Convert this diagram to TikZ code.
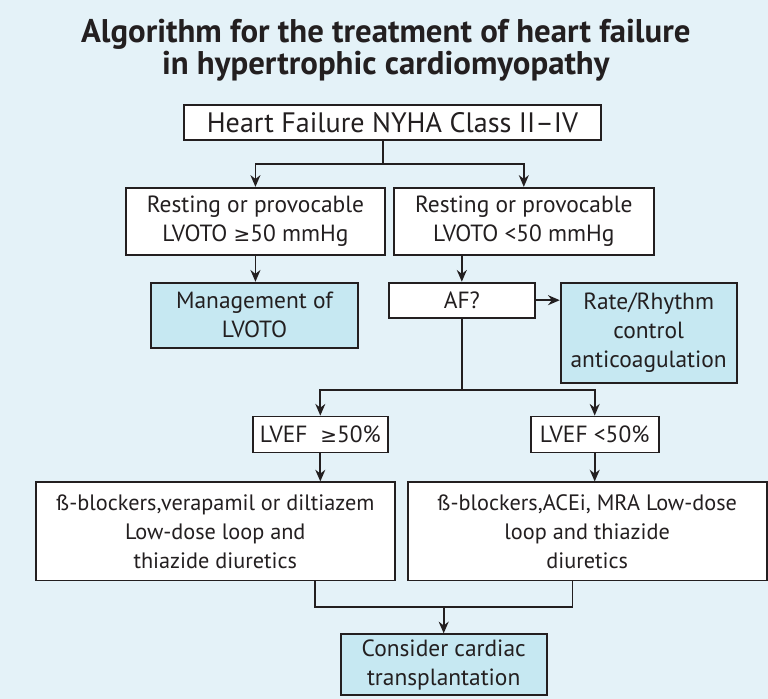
\documentclass[tikz,border=0pt]{standalone}
\usepackage{fontspec}
\setmainfont{PT Sans}
\newfontfamily\symfont{DejaVu Sans}
\newcommand{\geqsym}{{\symfont\fontsize{17}{20}\selectfont ≥}}
\usepackage{tikz}
\usetikzlibrary{arrows.meta, positioning}
\definecolor{hcmBack}{RGB}{228,242,248}
\definecolor{hcmFill}{RGB}{198,232,242}
\definecolor{hcmInk}{RGB}{35,31,32}

\begin{document}
\begin{tikzpicture}[
  node distance=0.8cm and 0.2cm,
  plain/.style={rectangle, draw=hcmInk, fill=white, line width=1.6pt,
                align=center, inner sep=0pt, text=hcmInk,
                font=\fontsize{20}{24.7}\selectfont},
  shaded/.style={plain, fill=hcmFill},
  line/.style={draw=hcmInk, line width=1.5pt},
  arr/.style={line, -{Stealth[length=10pt, width=8.5pt]}},
  title/.style={align=center, inner sep=0pt, text=hcmInk,
                font=\fontsize{28}{23.5}\selectfont\bfseries},
]
  % Background (page size)
  \fill[hcmBack] (0,0) rectangle (23.04,-20.97);
  \useasboundingbox (0,0) rectangle (23.04,-20.97);

  % Row 1
  \node[plain, anchor=north west, minimum width=12.51cm, minimum height=1.05cm,
        font=\fontsize{24}{25}\selectfont] (top) at (5.49,-3.12) {Heart Failure NYHA Class II–IV};
  \node[title, above=0.69cm of top, xshift=-0.2cm] (head) {Algorithm for the treatment of heart failure\\in hypertrophic cardiomyopathy};

  % Row 2
  \node[plain, minimum width=7.77cm, minimum height=2.01cm,
        below right=1.38cm and -1.74cm of top.south west] (lvotoHi) {Resting or provocable\\LVOTO \geqsym50 mmHg};
  \node[plain, minimum width=7.8cm, minimum height=2.01cm, right=0.21cm of lvotoHi] (lvotoLo) {Resting or provocable\\LVOTO <50 mmHg};

  % Row 3
  \node[shaded, minimum width=6.21cm, minimum height=1.95cm,
        below right=0.78cm and 0.75cm of lvotoHi.south west] (manage) {Management of\\LVOTO};
  \node[plain, minimum width=4.38cm, minimum height=1.05cm,
        below right=0.78cm and -0.15cm of lvotoLo.south west] (af) {AF?};
  \node[shaded, minimum width=5.28cm, minimum height=3.0cm,
        below right=0cm and 0.72cm of af.north east] (rate) {Rate/Rhythm\\control\\anticoagulation};

  % Row 4
  \node[plain, minimum width=4.05cm, minimum height=1.08cm,
        below right=2.91cm and -4.08cm of af.south west] (lvefHi) {LVEF\; \geqsym50\%};
  \node[plain, minimum width=3.84cm, minimum height=1.08cm, right=4.23cm of lvefHi] (lvefLo) {LVEF <50\%};

  % Row 5
  \node[plain, minimum width=10.77cm, minimum height=2.94cm, font=\fontsize{19}{24.7}\selectfont,
        below right=0.84cm and -6.51cm of lvefHi.south west] (drugHi) {ß-blockers,verapamil or diltiazem\\Low-dose loop and\\thiazide diuretics};
  \node[plain, minimum width=10.77cm, minimum height=2.94cm, font=\fontsize{19}{24.7}\selectfont,
        right=0.33cm of drugHi] (drugLo) {ß-blockers,ACEi, MRA Low-dose\\loop and thiazide\\diuretics};

  % Row 6
  \node[shaded, minimum width=6.18cm, minimum height=1.83cm,
        below right=1.56cm and -1.68cm of drugHi.south east] (transplant) {Consider cardiac\\transplantation};

  % Connectors
  \draw[line] ([xshift=-0.28cm]top.south) -- ++(0,-0.69) coordinate (split1);
  \draw[arr] (split1) -| (lvotoHi.north);
  \draw[arr] (split1) -| (lvotoLo.north);
  \draw[arr] (lvotoHi.south) -- (lvotoHi.south |- manage.north);
  \draw[arr] (af.north |- lvotoLo.south) -- (af.north);
  \draw[arr] (af.east) -- (af.east -| rate.west);
  \draw[line] (af.south) -- ++(0,-2.13) coordinate (split2);
  \draw[arr] (split2) -| (lvefHi.north);
  \draw[arr] (split2) -| (lvefLo.north);
  \draw[arr] (lvefHi.south) -- (lvefHi.south |- drugHi.north);
  \draw[arr] (lvefLo.south) -- (lvefLo.south |- drugLo.north);
  \draw[line] ([xshift=2.99cm]drugHi.south) -- ++(0,-0.78) coordinate (join1) -| ([xshift=-0.44cm]drugLo.south);
  \draw[arr] (join1 -| transplant.north) -- (transplant.north);
\end{tikzpicture}
\end{document}
